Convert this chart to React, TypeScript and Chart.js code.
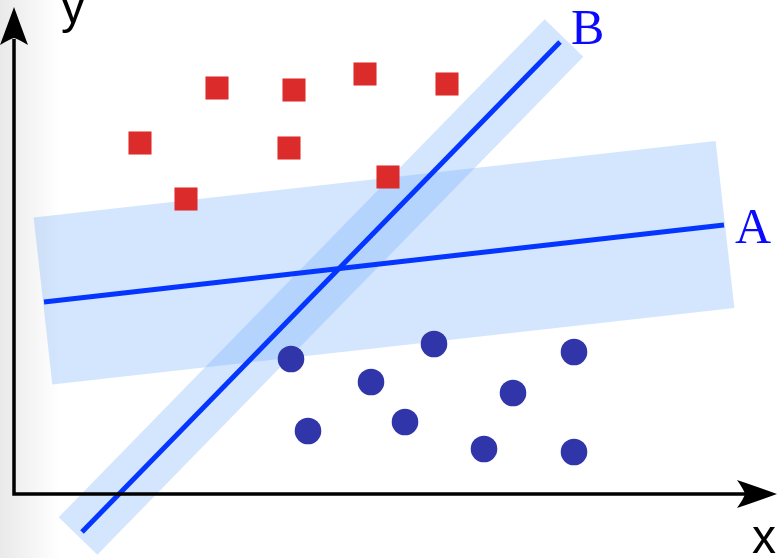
import React, { useEffect, useRef } from "react";
import { Chart, registerables } from "chart.js";

Chart.register(...registerables);

// Class 1 (red squares)
const redX = [12.6, 20.3, 28.0, 35.1, 43.3, 27.5, 37.4, 17.2];
const redY = [35.1, 40.6, 40.4, 42.0, 41.0, 34.6, 31.7, 29.5];
// Class 2 (blue circles)
const blueX = [27.7, 35.7, 42.0, 29.4, 39.1, 49.9, 56.0, 47.0, 56.0];
const blueY = [13.5, 11.2, 15.0, 6.3, 7.2, 10.1, 14.2, 4.5, 4.2];
// Separating lines
const lineAX = [3.0, 71.0];
const lineAY = [19.2, 26.9];
const lineBX = [6.8, 54.6];
const lineBY = [-3.8, 45.2];
// Margin bands (centre lines)
const bandAX = [2.9, 71.1];
const bandAY = [19.3, 26.95];
const bandBX = [6.4, 55.0];
const bandBY = [-4.2, 45.6];
// Axis tips
const axisTipX = 76.3;
const axisTipY = 48.7;
const lineLabels = ["A", "B"];
const axisLabels = ["x", "y"];

const zip = (xs: number[], ys: number[]) => xs.map((x, i) => ({ x, y: ys[i] }));

const bgPlugin = {
  id: "bg",
  beforeDraw(chart: any) {
    const { ctx, width, height } = chart;
    ctx.save();
    ctx.fillStyle = "#ffffff";
    ctx.fillRect(0, 0, width, height);
    const g = ctx.createLinearGradient(0, 0, 60, 0);
    g.addColorStop(0, "rgba(0,0,0,0.085)");
    g.addColorStop(1, "rgba(0,0,0,0)");
    ctx.fillStyle = g;
    ctx.fillRect(0, 0, 60, height);
    ctx.restore();
  },
};

const axesPlugin = {
  id: "axesArrows",
  afterDatasetsDraw(chart: any) {
    const { ctx } = chart;
    const xs = chart.scales.x;
    const ys = chart.scales.y;
    const x0 = xs.getPixelForValue(0);
    const y0 = ys.getPixelForValue(0);
    const xt = xs.getPixelForValue(axisTipX);
    const yt = ys.getPixelForValue(axisTipY);
    ctx.save();
    ctx.strokeStyle = "#000";
    ctx.fillStyle = "#000";
    ctx.lineWidth = 3.5;
    ctx.lineJoin = "miter";
    ctx.beginPath();
    ctx.moveTo(x0, yt + 32);
    ctx.lineTo(x0, y0);
    ctx.lineTo(xt - 32, y0);
    ctx.stroke();
    // up arrow
    ctx.beginPath();
    ctx.moveTo(x0, yt);
    ctx.quadraticCurveTo(x0 - 8, yt + 22, x0 - 14, yt + 38);
    ctx.quadraticCurveTo(x0 - 4, yt + 32, x0, yt + 31);
    ctx.quadraticCurveTo(x0 + 4, yt + 32, x0 + 14, yt + 38);
    ctx.quadraticCurveTo(x0 + 8, yt + 22, x0, yt);
    ctx.fill();
    // right arrow
    ctx.beginPath();
    ctx.moveTo(xt, y0);
    ctx.quadraticCurveTo(xt - 22, y0 - 8, xt - 40, y0 - 14);
    ctx.quadraticCurveTo(xt - 33, y0 - 4, xt - 32, y0);
    ctx.quadraticCurveTo(xt - 33, y0 + 4, xt - 40, y0 + 14);
    ctx.quadraticCurveTo(xt - 22, y0 + 8, xt, y0);
    ctx.fill();

    // axis labels
    ctx.font = "48px 'Liberation Sans', Arial, sans-serif";
    ctx.textBaseline = "alphabetic";
    ctx.textAlign = "left";
    ctx.fillText(axisLabels[0], xt - 25, y0 + 59);
    ctx.fillText(axisLabels[1], x0 + 47, yt + 16);

    // line labels
    ctx.fillStyle = "#0a0aff";
    ctx.font = "50px 'Liberation Serif', 'Times New Roman', serif";
    const aX = xs.getPixelForValue(lineAX[1]);
    const aY = ys.getPixelForValue(lineAY[1]);
    ctx.fillText(lineLabels[0], aX + 11, aY + 18);
    const bX = xs.getPixelForValue(lineBX[1]);
    const bY = ys.getPixelForValue(lineBY[1]);
    ctx.fillText(lineLabels[1], bX + 11, bY + 2);
    ctx.restore();
  },
};

export default function App() {
  const ref = useRef<HTMLCanvasElement | null>(null);
  useEffect(() => {
    if (!ref.current) return;
    const bandColor = "rgba(100,165,250,0.28)";
    const lineColor = "#0536ff";
    const chart = new Chart(ref.current, {
      type: "scatter",
      data: {
        datasets: [
          {
            label: "red",
            data: zip(redX, redY),
            pointStyle: "rect",
            pointRadius: 16.3,
            pointBackgroundColor: "#dc2b2b",
            pointBorderWidth: 0,
            order: 0,
          } as any,
          {
            label: "blue",
            data: zip(blueX, blueY),
            pointStyle: "circle",
            pointRadius: 13.3,
            pointBackgroundColor: "#3036aa",
            pointBorderWidth: 0,
            order: 0,
          },
          {
            label: "A",
            data: zip(lineAX, lineAY),
            showLine: true,
            pointRadius: 0,
            borderColor: lineColor,
            borderWidth: 5,
            borderCapStyle: "butt",
            order: 1,
          },
          {
            label: "B",
            data: zip(lineBX, lineBY),
            showLine: true,
            pointRadius: 0,
            borderColor: lineColor,
            borderWidth: 5,
            borderCapStyle: "butt",
            order: 1,
          },
          {
            label: "bandA",
            data: zip(bandAX, bandAY),
            showLine: true,
            pointRadius: 0,
            borderColor: bandColor,
            borderWidth: 168,
            borderCapStyle: "butt",
            order: 2,
          },
          {
            label: "bandB",
            data: zip(bandBX, bandBY),
            showLine: true,
            pointRadius: 0,
            borderColor: bandColor,
            borderWidth: 54,
            borderCapStyle: "butt",
            order: 2,
          },
        ],
      },
      options: {
        animation: false,
        responsive: true,
        maintainAspectRatio: false,
        events: [],
        clip: false as any,
        layout: { padding: 0, autoPadding: false },
        plugins: { legend: { display: false }, tooltip: { enabled: false } },
        scales: {
          x: { type: "linear", min: -1.4, max: 77.0, display: false },
          y: { type: "linear", min: -6.4, max: 49.4, display: false },
        },
      },
      plugins: [bgPlugin, axesPlugin],
    });
    return () => chart.destroy();
  }, []);
  return (
    <div style={{ position: "absolute", left: 0, top: 0, width: 784, height: 558 }}>
      <canvas ref={ref} />
    </div>
  );
}
